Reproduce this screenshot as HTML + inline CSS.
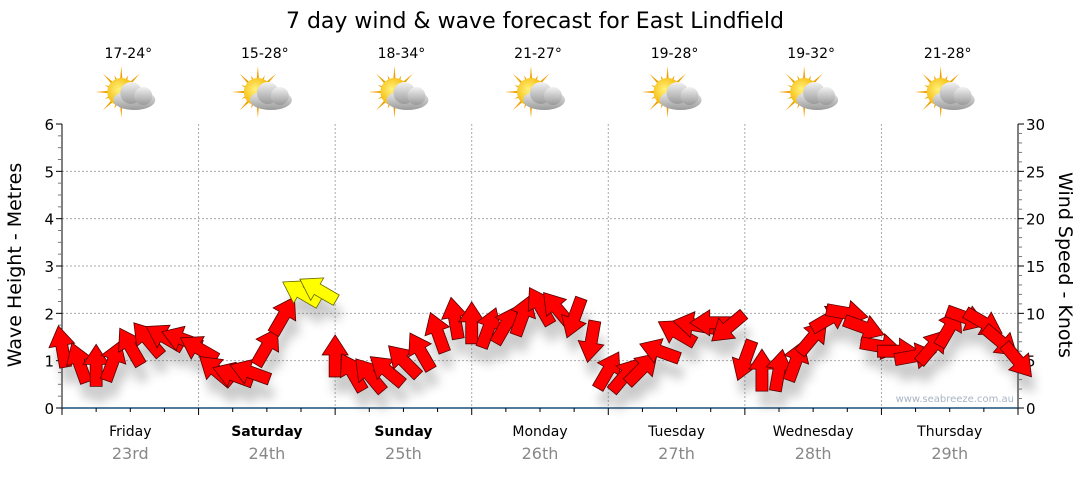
<!DOCTYPE html>
<html><head><meta charset="utf-8">
<style>
body{margin:0;background:#fff;font-family:"DejaVu Sans","Liberation Sans",sans-serif;}
svg text{font-family:"DejaVu Sans","Liberation Sans",sans-serif;}
</style></head>
<body>
<svg id="chart" width="1080" height="475" xmlns="http://www.w3.org/2000/svg">
<defs>
<filter id="sh" x="-50%" y="-50%" width="200%" height="200%"><feGaussianBlur stdDeviation="5"/></filter>
<radialGradient id="sun" cx="0.4" cy="0.4" r="0.6"><stop offset="0" stop-color="#fff27a"/><stop offset="1" stop-color="#f5b400"/></radialGradient>
<linearGradient id="cloud" x1="0" y1="0" x2="0" y2="1"><stop offset="0" stop-color="#f2f2f2"/><stop offset="1" stop-color="#9a9a9a"/></linearGradient>
</defs>
<text x="535" y="28" font-size="22" text-anchor="middle" fill="#000">7 day wind &amp; wave forecast for East Lindfield</text>
<g id="grid"></g>
<g id="axes"></g>
<g id="shadows" filter="url(#sh)" opacity="0.3"></g>
<g id="arrows"></g>
<g id="days"></g>
<text transform="translate(21,265) rotate(-90)" font-size="19" text-anchor="middle">Wave Height - Metres</text>
<text transform="translate(1059,265) rotate(90)" font-size="19" text-anchor="middle">Wind Speed - Knots</text>
<text x="1014" y="402" font-size="10" fill="#a8b4c4" text-anchor="end">www.seabreeze.com.au</text>
</svg>
<script>
const dayNames=["Friday","Saturday","Sunday","Monday","Tuesday","Wednesday","Thursday"];
const dayBold=[false,true,true,false,false,false,false];
const dayDates=["23rd","24th","25th","26th","27th","28th","29th"];
const temps=["17-24°","15-28°","18-34°","21-27°","19-28°","19-32°","21-28°"];
const waveTicks=[0,1,2,3,4,5,6];
const windTicks=[0,5,10,15,20,25,30];
const windKnots=[6.5,4.8,4.5,5,6.5,7.3,7.5,7.3,
 6.3,4,3.5,3.8,6.5,9.8,12.2,12.5,
 5.5,3.8,3.5,4,5,6,8,9.5,
 9,8.5,8.8,9.8,10.8,10.5,9.5,7,
 4,3.5,4.2,6,8,8.8,9,8.5,
 5,4,4,5,7.5,9.5,10,8.5,
 6.5,6,5.5,6.5,8.5,9.5,9,7,5];
const windDir=[350,340,0,20,330,320,300,290,
 300,310,290,290,30,30,300,300,
 0,330,320,310,315,330,340,350,
 0,20,30,20,330,320,200,190,
 30,40,45,290,300,280,270,230,
 200,0,10,20,40,60,100,110,
 100,90,80,40,30,110,120,130,140];
const X0=62,X1=1018,Y0=408,Y1=124,HOURS=168,STEP=3;
const xH=h=>X0+h/HOURS*(X1-X0);
const yM=m=>Y0-m/6*(Y0-Y1);
const yK=k=>Y0-k/30*(Y0-Y1);
const NS="http://www.w3.org/2000/svg";
function mk(tag,attrs,parent){const e=document.createElementNS(NS,tag);for(const k in attrs)e.setAttribute(k,attrs[k]);parent.appendChild(e);return e;}
const grid=document.getElementById('grid'),axes=document.getElementById('axes'),days=document.getElementById('days');
waveTicks.forEach(v=>{if(v>0&&v<6){const l=mk('line',{x1:X0,x2:X1,y1:yM(v),y2:yM(v),stroke:'#aaa','stroke-dasharray':'2,2'},grid);

}});
for(let d=1;d<7;d++){const l=mk('line',{x1:xH(d*24),x2:xH(d*24),y1:Y1,y2:Y0,stroke:'#aaa','stroke-dasharray':'2,2'},grid);

}
mk('line',{x1:X0,x2:X0,y1:Y1,y2:Y0+6,stroke:'#000'},axes);
for(let i=0;i<=24;i++){const y=yM(i/4);mk('line',{x1:X0-(i%4?4:6),x2:X0,y1:y,y2:y,stroke:i%4?'#777':'#000'},axes);}
waveTicks.forEach(v=>{const t=mk('text',{x:X0-8,y:yM(v)+6,'font-size':15,'text-anchor':'end'},axes);t.textContent=v;

});
mk('line',{x1:X1,x2:X1,y1:Y1,y2:Y0,stroke:'#000'},axes);
for(let i=0;i<=30;i++){const y=yK(i);mk('line',{x1:X1,x2:X1+(i%5?4:6),y1:y,y2:y,stroke:i%5?'#777':'#000'},axes);}
windTicks.forEach(v=>{const t=mk('text',{x:X1+8,y:yK(v)+6,'font-size':15},axes);t.textContent=v;

});
mk('line',{x1:X0,x2:X1,y1:Y0,y2:Y0,stroke:'#1a4f7a','stroke-width':1.5},axes);
for(let h=0;h<=HOURS;h+=6){mk('line',{x1:xH(h),x2:xH(h),y1:Y0,y2:Y0+(h%24?4:7),stroke:'#000'},axes);}
function icon(cx,cy,g){
 for(let a=0;a<360;a+=22.5){const r=a*Math.PI/180,l=(a/22.5)%2?18:26;
  mk('polygon',{points:`${cx+Math.cos(r+0.12)*11},${cy+Math.sin(r+0.12)*11} ${cx+Math.cos(r)*l},${cy+Math.sin(r)*l} ${cx+Math.cos(r-0.12)*11},${cy+Math.sin(r-0.12)*11}`,fill:'#f0a000'},g);}
 mk('circle',{cx:cx,cy:cy,r:14,fill:'url(#sun)'},g);
 const c=mk('g',{fill:'url(#cloud)'},g);
 mk('ellipse',{cx:cx+13,cy:cy+8,rx:21,ry:10},c);
 mk('circle',{cx:cx+10,cy:cy+1,r:11},c);
 mk('circle',{cx:cx+22,cy:cy+4,r:9},c);
}
for(let d=0;d<7;d++){const cx=xH(d*24+12);
 const n=mk('text',{x:cx,y:436,'font-size':14,'text-anchor':'middle','font-weight':dayBold[d]?'bold':'normal'},days);n.textContent=dayNames[d];
 
 
 const dt=mk('text',{x:cx,y:459,'font-size':16,'text-anchor':'middle',fill:'#888'},days);dt.textContent=dayDates[d];
 
 
 const tp=mk('text',{x:cx-2,y:58,'font-size':14,'text-anchor':'middle'},days);tp.textContent=temps[d];
 
 
 const g=mk('g',{},days);
 
 
 icon(cx-9,92,g);
}
const ag=document.getElementById('arrows'),sg=document.getElementById('shadows');
const shape="0,-21 -13,-1 -6,-1 -6,21 6,21 6,-1 13,-1";
windKnots.forEach((k,i)=>{const x=xH(i*STEP),y=yK(k);
 mk('polygon',{points:shape,transform:`translate(${x+4},${y+16}) rotate(${windDir[i]})`,fill:'#555'},sg);
 const p=mk('polygon',{points:shape,transform:`translate(${x},${y}) rotate(${windDir[i]})`,fill:k>=12?'#ffff00':'#ff0000',stroke:k>=12?'#666600':'#550000','stroke-width':0.8},ag);
 
 
});
</script>
</body></html>
